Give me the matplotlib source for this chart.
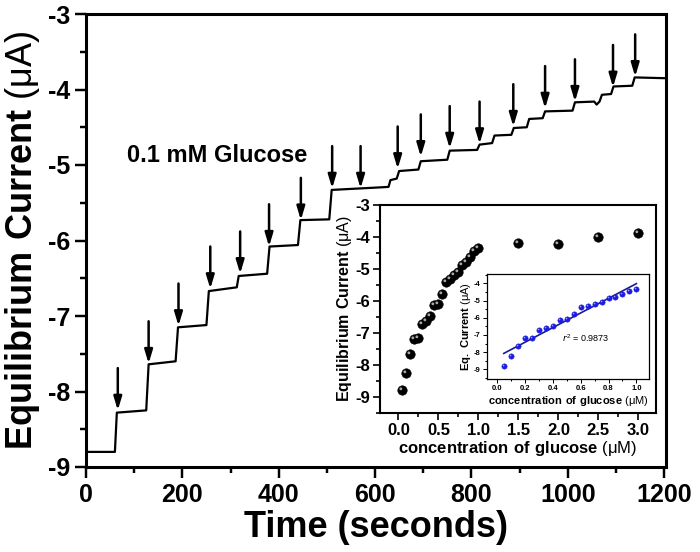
import numpy as np
import matplotlib
matplotlib.use("Agg")
import matplotlib.pyplot as plt
from matplotlib.path import Path
from matplotlib.ticker import MultipleLocator

plt.rcParams["font.family"] = ["Liberation Sans", "DejaVu Sans"]
plt.rcParams["mathtext.fontset"] = "custom"
plt.rcParams["mathtext.rm"] = "Liberation Sans"
plt.rcParams["mathtext.bf"] = "Liberation Sans:bold"
plt.rcParams["axes.unicode_minus"] = False

# amperometric trace (time in s, current in uA)
trace_t = [0, 60, 64, 125, 130, 186, 191, 250, 255, 313, 317, 376, 381, 440,
           445, 505, 510, 600, 628, 632, 645, 650, 690, 695, 750, 755, 812,
           817, 843, 848, 883, 888, 915, 920, 948, 953, 1010, 1015, 1055,
           1060, 1066, 1071, 1090, 1095, 1134, 1139, 1200]
trace_i = [-8.80, -8.80, -8.28, -8.25, -7.64, -7.60, -7.15, -7.12, -6.67,
           -6.62, -6.47, -6.44, -6.08, -6.06, -5.73, -5.72, -5.33, -5.30,
           -5.29, -5.20, -5.18, -5.08, -5.06, -4.95, -4.93, -4.81, -4.80,
           -4.73, -4.71, -4.61, -4.60, -4.51, -4.50, -4.39, -4.38, -4.29,
           -4.28, -4.17, -4.16, -4.20, -4.16, -4.07, -4.06, -3.96, -3.95,
           -3.84, -3.85]

# glucose additions marked with arrows
add_t = [66, 130, 192, 258, 320, 380, 446, 511, 570, 647, 695, 755, 817,
         887, 953, 1015, 1094, 1140]
add_i = [-8.27, -7.65, -7.15, -6.66, -6.46, -6.10, -5.75, -5.33, -5.33,
         -5.07, -4.91, -4.80, -4.74, -4.51, -4.27, -4.18, -3.99, -3.85]

# calibration points
conc_low = [0.05, 0.10, 0.15, 0.20, 0.25, 0.30, 0.35, 0.40, 0.45, 0.50,
            0.55, 0.60, 0.65, 0.70, 0.75, 0.80, 0.85, 0.90, 0.95, 1.00]
cur_low = [-8.79, -8.24, -7.65, -7.20, -7.16, -6.73, -6.62, -6.48, -6.13,
           -6.08, -5.77, -5.40, -5.32, -5.20, -5.10, -4.87, -4.78, -4.64,
           -4.45, -4.33]
conc_high = [1.5, 2.0, 2.5, 3.0]
cur_high = [-4.20, -4.22, -4.01, -3.87]

# small highlight for the "sphere" markers
shine = Path.circle(center=(-0.35, 0.35), radius=0.3)


def spheres(ax, x, y, ms, color, light):
    ax.plot(x, y, "o", ms=ms, color=color, mec=color, mew=0.4, zorder=3)
    ax.plot(x, y, ls="none", marker=shine, ms=ms * 0.65, color=light,
            mew=0, zorder=4)


def style_axes(ax, lw, major, minor):
    for s in ax.spines.values():
        s.set_linewidth(lw)
    ax.tick_params(which="both", direction="out", top=False, right=False,
                   width=lw * 0.8)
    ax.tick_params(which="major", length=major)
    ax.tick_params(which="minor", length=minor)


fig = plt.figure(figsize=(7.0, 5.52), dpi=100)

# main amperogram
ax = fig.add_axes([86 / 700, 1 - 467 / 552, 580 / 700, 453 / 552])
ax.plot(trace_t, trace_i, color="black", lw=1.6)
for t, i in zip(add_t, add_i):
    ax.annotate("", xy=(t, i + 0.02), xytext=(t, i + 0.58),
                arrowprops=dict(arrowstyle="-|>,head_width=0.12,head_length=0.4",
                                color="black", lw=1.8, mutation_scale=20,
                                shrinkA=0, shrinkB=0))
ax.text(85, -4.87, "0.1 mM Glucose", fontsize=17, fontweight="bold",
        va="center", ha="left")
ax.set_xlim(0, 1204)
ax.set_ylim(-9, -3)
ax.xaxis.set_major_locator(MultipleLocator(200))
ax.xaxis.set_minor_locator(MultipleLocator(100))
ax.yaxis.set_major_locator(MultipleLocator(1))
ax.yaxis.set_minor_locator(MultipleLocator(0.5))
style_axes(ax, 2.2, 8, 4)
for lab in ax.get_xticklabels() + ax.get_yticklabels():
    lab.set_fontweight("bold")
    lab.set_fontsize(18)
ax.set_xlabel("Time (seconds)", fontsize=26, fontweight="bold", labelpad=2)
ax.set_ylabel(r"$\mathbf{Equilibrium\ Current}$ (μA)", fontsize=26,
              labelpad=4)

# calibration inset
ins = fig.add_axes([380 / 700, 1 - 413 / 552, 276 / 700, 208 / 552])
spheres(ins, conc_low + conc_high, cur_low + cur_high, 6.8, "black", "#a8a8a8")
ins.set_xlim(-0.23, 3.22)
ins.set_ylim(-9.5, -3)
ins.xaxis.set_major_locator(MultipleLocator(0.5))
ins.xaxis.set_minor_locator(MultipleLocator(0.25))
ins.yaxis.set_major_locator(MultipleLocator(1))
ins.yaxis.set_minor_locator(MultipleLocator(0.5))
style_axes(ins, 1.5, 5, 3)
ins.set_xticks(np.arange(0, 3.01, 0.5))
ins.set_xticklabels([f"{v:.1f}" for v in np.arange(0, 3.01, 0.5)])
for lab in ins.get_xticklabels() + ins.get_yticklabels():
    lab.set_fontweight("bold")
    lab.set_fontsize(12)
ins.tick_params(pad=2)
ins.set_xlabel(r"$\mathbf{concentration\ of\ glucose}$ (μM)", fontsize=12,
               labelpad=1)
ins.set_ylabel(r"$\mathbf{Equilibrium\ Current}$ (μA)", fontsize=11.5,
               labelpad=1)

# linear range inset
sub = fig.add_axes([487 / 700, 1 - 379 / 552, 162 / 700, 105 / 552])
fit = np.polyfit(conc_low, cur_low, 1)
xf = np.array([conc_low[0], conc_low[-1]])
sub.plot(xf, np.polyval(fit, xf), color="#1a1a9a", lw=1.2, zorder=2)
spheres(sub, conc_low, cur_low, 3.8, "#1c1cdc", "#9a9aff")
sub.text(0.47, -7.17, r"$r^{2}$ = 0.9873", fontsize=6.5, va="center")
sub.set_xlim(-0.07, 1.09)
sub.set_ylim(-9.56, -3.46)
sub.xaxis.set_major_locator(MultipleLocator(0.2))
sub.xaxis.set_minor_locator(MultipleLocator(0.1))
sub.yaxis.set_major_locator(MultipleLocator(1))
sub.yaxis.set_minor_locator(MultipleLocator(0.5))
style_axes(sub, 0.9, 3, 1.5)
for lab in sub.get_xticklabels() + sub.get_yticklabels():
    lab.set_fontweight("bold")
    lab.set_fontsize(5.5)
sub.tick_params(pad=1.5)
sub.set_xlabel(r"$\mathbf{concentration\ of\ glucose}$ (μM)", fontsize=8,
               labelpad=1)
sub.set_ylabel(r"$\mathbf{Eq.\ Current}$ (μA)", fontsize=8, labelpad=1)

fig.savefig("out.png", dpi=100)
